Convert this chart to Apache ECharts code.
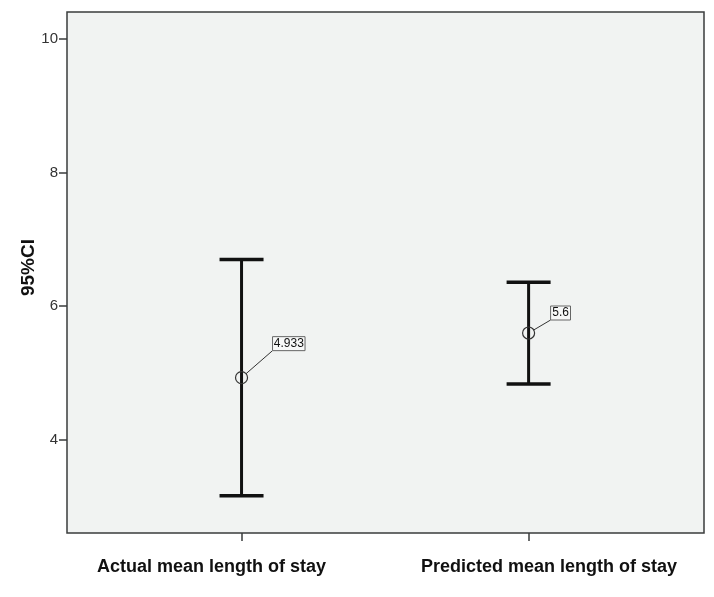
<!DOCTYPE html>
<html>
<head>
<meta charset="utf-8">
<script src="https://cdn.jsdelivr.net/npm/echarts@6/dist/echarts.min.js"></script>
<style>html,body{margin:0;padding:0;background:#fff}#c{width:714px;height:597px}</style>
</head>
<body>
<div id="c"></div>
<script>
const categories = ['Actual mean length of stay', 'Predicted mean length of stay'];
const means = [4.933, 5.6];
const lower = [3.17, 4.84];
const upper = [6.70, 6.36];
const meanLabels = ['4.933', '5.6'];
const yTicks = [4, 6, 8, 10];

const chart = echarts.init(document.getElementById('c'));
// label box offsets (bottom-left corner of box relative to the mean point)
const boxOffsets = [[31, -27], [22, -13]];

const data = categories.map((c, i) => [i, lower[i], upper[i], means[i]]);

chart.setOption({
  animation: false,
  grid: { left: 67, top: 12, right: 10, bottom: 64, show: true, backgroundColor: '#f1f3f2', borderColor: '#3a3d3c', borderWidth: 1.5 },
  xAxis: {
    type: 'value', min: -0.608, max: 1.611,
    splitLine: { show: false },
    axisLine: { show: false, onZero: false },
    axisTick: { show: true, length: 8, lineStyle: { color: '#3a3d3c', width: 1.5 }, customValues: [0, 1] },
    axisLabel: { show: false, customValues: [0, 1] }
  },
  yAxis: {
    type: 'value', min: 2.612, max: 10.396,
    splitLine: { show: false },
    axisLine: { show: false, onZero: false },
    axisTick: { show: true, length: 8, lineStyle: { color: '#3a3d3c', width: 1.5 }, customValues: yTicks },
    axisLabel: { show: true, customValues: yTicks, color: '#333', fontSize: 15, fontFamily: 'Liberation Sans, Arial, sans-serif', margin: 9 },
    name: '95%CI', nameLocation: 'middle', nameGap: 29, nameMoveOverlap: false,
    nameTextStyle: { fontWeight: 'bold', fontSize: 19, color: '#111', fontFamily: 'Liberation Sans, Arial, sans-serif', padding: [0, 0, 0, 10] }
  },
  graphic: [
    { type: 'text', left: 97, top: 558, style: { text: categories[0], font: 'bold 18px "Liberation Sans", Arial, sans-serif', fill: '#111' } },
    { type: 'text', left: 421, top: 558, style: { text: categories[1], font: 'bold 18px "Liberation Sans", Arial, sans-serif', fill: '#111' } }
  ],
  series: [{
    type: 'custom',
    data: data,
    encode: { x: 0, y: [1, 2] },
    renderItem: function (params, api) {
      const i = params.dataIndex;
      const x = api.value(0);
      const lo = api.coord([x, api.value(1)]);
      const hi = api.coord([x, api.value(2)]);
      const m = api.coord([x, api.value(3)]);
      const capHalf = 22;
      const off = boxOffsets[i];
      const r = 6;
      const bx = m[0] + off[0], by = m[1] + off[1];
      const dx = bx - m[0], dy = by - m[1];
      const len = Math.sqrt(dx * dx + dy * dy);
      const text = meanLabels[i];
      const boxW = text.length * 6.3 + 1, boxH = 14;
      const lineStyle = { stroke: '#111', lineWidth: 3 };
      return {
        type: 'group',
        children: [
          { type: 'line', shape: { x1: lo[0], y1: lo[1], x2: hi[0], y2: hi[1] }, style: lineStyle },
          { type: 'line', shape: { x1: lo[0] - capHalf, y1: lo[1], x2: lo[0] + capHalf, y2: lo[1] }, style: { stroke: '#111', lineWidth: 3.5 } },
          { type: 'line', shape: { x1: hi[0] - capHalf, y1: hi[1], x2: hi[0] + capHalf, y2: hi[1] }, style: { stroke: '#111', lineWidth: 3.5 } },
          { type: 'line', shape: { x1: m[0] + dx / len * r, y1: m[1] + dy / len * r, x2: bx, y2: by }, style: { stroke: '#333', lineWidth: 1 } },
          { type: 'circle', shape: { cx: m[0], cy: m[1], r: r }, style: { fill: 'none', stroke: '#333', lineWidth: 1.2 } },
          { type: 'rect', shape: { x: bx, y: by - boxH, width: boxW, height: boxH }, style: { fill: '#f7f8f8', stroke: '#666', lineWidth: 1 } },
          { type: 'text', style: { x: bx + boxW / 2, y: by - boxH / 2, text: text, align: 'center', verticalAlign: 'middle', font: '12px "Liberation Sans", Arial, sans-serif', fill: '#111' } }
        ]
      };
    }
  }]
});
</script>
</body>
</html>
